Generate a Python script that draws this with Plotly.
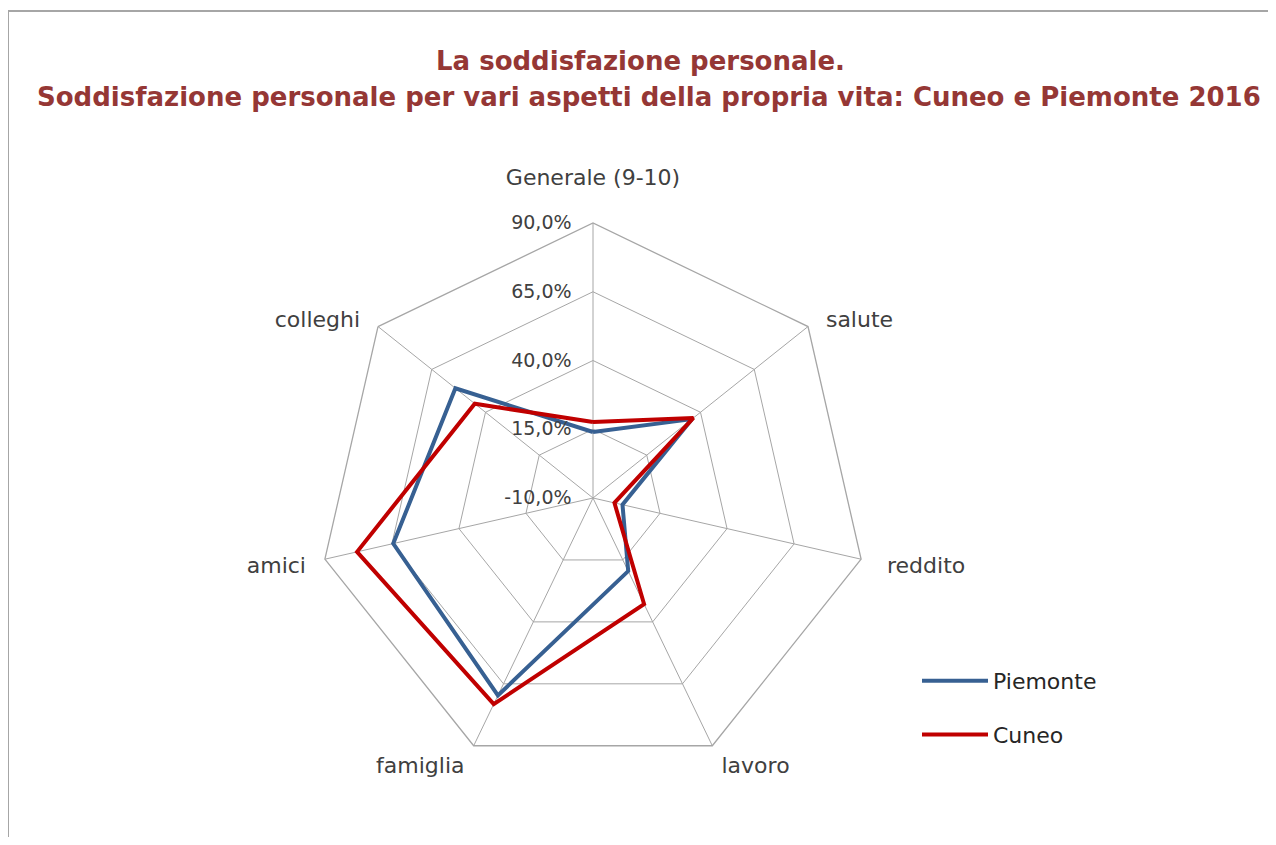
import plotly.graph_objects as go

categories = ["Generale (9-10)", "salute", "reddito", "lavoro", "famiglia", "amici", "colleghi"]
piemonte = [14.0, 36.0, 1.0, 19.5, 69.7, 64.5, 54.0]
cuneo = [17.6, 36.7, -2.0, 32.8, 73.2, 78.0, 45.0]
radial_ticks = [-10, 15, 40, 65, 90]
radial_labels = ["-10,0%", "15,0%", "40,0%", "65,0%", "90,0%"]

# page has an 8px body margin: figure is sized to fit the window
OFF = 8
W, H = 1276 - 2 * OFF, 845 - 2 * OFF


def px(x):
    return (x - OFF) / W


def py(y):
    return 1 - (y - OFF) / H


cx, cy, R = 593, 498, 275
NB = "\u00a0"
# label padding (leading, trailing) in non-breaking spaces, pushes labels away from the web
pad = {"salute": (2, 0), "reddito": (3, 0), "lavoro": (1, 0), "famiglia": (0, 1),
       "amici": (0, 2), "colleghi": (0, 2)}
ang_text = [NB * pad.get(c, (0, 0))[0] + c + NB * pad.get(c, (0, 0))[1] for c in categories]
ang_text[0] = ang_text[0] + "<br>" + NB  # lift the top label above the radial tick label
rad_text = [t + NB * 3 for t in radial_labels]

fig = go.Figure()
for name, vals, col in [("Piemonte", piemonte, "#376092"), ("Cuneo", cuneo, "#C00000")]:
    fig.add_trace(go.Scatterpolar(
        r=vals + [vals[0]], theta=categories + [categories[0]],
        mode="lines", name=name, legendgroup=name, line=dict(color=col, width=4),
        hoverinfo="skip"))

fig.update_layout(
    width=W, height=H,
    margin=dict(l=0, r=0, t=0, b=0),
    paper_bgcolor="white",
    showlegend=True,
    legend=dict(x=px(917), y=py(660), xanchor="left", yanchor="top",
                font=dict(family="DejaVu Sans", size=22, color="#262626"),
                traceorder="grouped", tracegroupgap=22, itemwidth=66,
                bgcolor="rgba(0,0,0,0)"),
    polar=dict(
        domain=dict(x=[px(cx - R), px(cx + R)], y=[py(cy + R), py(cy - R)]),
        gridshape="linear",
        bgcolor="white",
        angularaxis=dict(direction="clockwise", rotation=90,
                         tickmode="array", tickvals=categories, ticktext=ang_text,
                         showline=True, linecolor="#A6A6A6", linewidth=1.3,
                         gridcolor="#A6A6A6", gridwidth=1.3,
                         ticks="", tickfont=dict(family="DejaVu Sans", size=22, color="#404040")),
        radialaxis=dict(range=[-10, 90], tickmode="array", tickvals=radial_ticks,
                        ticktext=rad_text,
                        angle=90, tickangle=90, side="counterclockwise",
                        showline=False, gridcolor="#A6A6A6", gridwidth=1.3,
                        ticks="", tickfont=dict(family="DejaVu Sans", size=19, color="#404040")),
    ),
    shapes=[
        dict(type="line", xref="paper", yref="paper", x0=px(8), x1=1.0, y0=py(11), y1=py(11),
             line=dict(color="#A6A6A6", width=2)),
        dict(type="line", xref="paper", yref="paper", x0=px(8), x1=px(8), y0=py(11), y1=0,
             line=dict(color="#A6A6A6", width=2)),
    ],
    annotations=[
        dict(text="<b>La soddisfazione personale.</b>", x=px(640), y=py(61), xref="paper", yref="paper",
             showarrow=False, xanchor="center", yanchor="middle",
             font=dict(family="DejaVu Sans", size=26, color="#953735")),
        dict(text="<b>Soddisfazione personale per vari aspetti della propria vita: Cuneo e Piemonte 2016</b>",
             x=px(649), y=py(97), xref="paper", yref="paper",
             showarrow=False, xanchor="center", yanchor="middle",
             font=dict(family="DejaVu Sans", size=26, color="#953735")),
    ],
)

fig.write_html("out.html")
